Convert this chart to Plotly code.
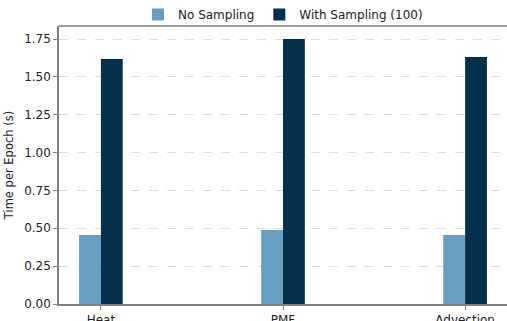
import plotly.graph_objects as go

categories = ["Heat", "PMF", "Advection"]
no_sampling = [0.456, 0.489, 0.456]
with_sampling = [1.618, 1.750, 1.631]
y_ticks = [0.0, 0.25, 0.5, 0.75, 1.0, 1.25, 1.5, 1.75]
y_tick_labels = ["0.00", "0.25", "0.50", "0.75", "1.00", "1.25", "1.50", "1.75"]

light = "#6a9ec0"
dark = "#05304b"
font = "DejaVu Sans"

fig = go.Figure()
fig.add_trace(go.Bar(x=categories, y=no_sampling, name="No Sampling",
                     marker=dict(color=light, line=dict(width=0))))
fig.add_trace(go.Bar(x=categories, y=with_sampling, name="With Sampling (100)",
                     marker=dict(color=dark, line=dict(width=0))))

fig.update_layout(
    width=507, height=321,
    margin=dict(l=59, r=0, t=26, b=17, autoexpand=False),
    paper_bgcolor="white", plot_bgcolor="white",
    barmode="group", bargap=0.76, bargroupgap=0,
    font=dict(family=font, size=12, color="#222222"),
    legend=dict(orientation="h", x=0.5, xanchor="center", yref="container", y=1.0,
                yanchor="top", font=dict(size=12), itemwidth=30,
                bgcolor="rgba(0,0,0,0)"),
    xaxis=dict(range=[-0.23, 2.23], showline=True, linecolor="#808080", linewidth=1.5,
               mirror=False, ticks="outside", ticklen=4, tickcolor="#808080",
               showgrid=False, automargin=False),
    yaxis=dict(range=[0, 1.836], tickvals=y_ticks, ticktext=y_tick_labels,
               showline=True, linecolor="#808080", linewidth=1.5, mirror=False,
               ticks="outside", ticklen=4, tickcolor="#808080",
               showgrid=True, gridcolor="#dddddd", griddash="dash", gridwidth=1,
               zeroline=False, automargin=False,
               title=dict(text="Time per Epoch (s)", font=dict(size=11.5), standoff=8)),
    shapes=[dict(type="line", xref="paper", yref="paper", x0=0, x1=1, y0=1, y1=1,
                 line=dict(color="#808080", width=1.5))],
)

fig.write_html("out.html", config={"displayModeBar": False},
               post_script="document.body.style.margin='0';"
                           "document.body.style.overflow='hidden';"
                           "document.documentElement.style.overflow='hidden';")
